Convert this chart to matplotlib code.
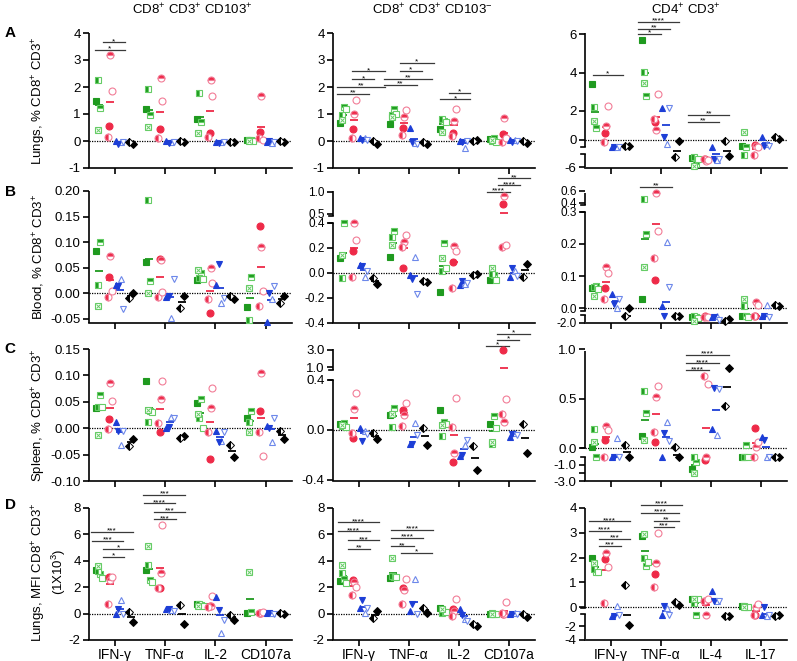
import numpy as np
import matplotlib
matplotlib.use('Agg')
import matplotlib.pyplot as plt

plt.rcParams['font.family'] = ['Liberation Sans', 'DejaVu Sans']
plt.rcParams['mathtext.fontset'] = 'custom'
plt.rcParams['mathtext.rm'] = 'Liberation Sans'
plt.rcParams['mathtext.it'] = 'Liberation Sans:italic'
plt.rcParams['mathtext.bf'] = 'Liberation Sans:bold'

# ---- data (per panel: one list per category, order of symbols fixed per group) ----
# green: [full, top-half, left-half, open, crossed]; red: [full, top, left, open]
# blue: [up full, up open, down full, down open]; black: [full, half]
cats_cd8 = ['IFN-γ', 'TNF-α', 'IL-2', 'CD107a']
cats_cd4 = ['IFN-γ', 'TNF-α', 'IL-4', 'IL-17']

a1_green = [[1.47, 1.22, 2.25, None, 0.39], [1.19, 0.97, 1.91, None, 0.51], [0.81, 0.69, 1.76, None, 0.31], [0.02, 0.03, 0.04, 0.0, 0.0]]
a1_red = [[0.54, 3.18, 0.16, 1.85], [0.44, 2.33, 0.12, 1.47], [0.31, 2.26, 0.16, 1.66], [0.33, 1.66, 0.1, 0.05]]
a1_blue = [[0.0, -0.05, -0.1, -0.05], [0.0, -0.05, -0.08, -0.03], [-0.03, -0.05, -0.08, -0.02], [-0.03, -0.08, 0.0, -0.05]]
a1_black = [[-0.12, -0.03], [-0.02, 0.0], [-0.03, -0.02], [-0.02, 0.0]]
a1_sig = [(0, -0.23, 0.2, 3.66, '*'), (0, -0.4, 0.2, 3.38, '*')]

a2_green = [[0.67, 1.27, 0.95, 1.2, 0.78], [0.63, 1.18, 0.97, 1.0, 0.9], [0.46, 0.75, 0.8, 0.7, 0.35], [0.08, 0.1, 0.0, -0.05, 0.05]]
a2_red = [[0.46, 0.99, 0.11, 1.52], [0.49, 0.9, 0.21, 1.14], [0.28, 0.75, 0.2, 1.2], [0.25, 0.84, -0.02, 0.1]]
a2_blue = [[0.1, 0.12, 0.03, 0.05], [0.48, -0.08, -0.05, -0.1], [0.0, -0.25, -0.02, 0.0], [0.02, 0.05, -0.02, 0.0]]
a2_black = [[-0.12, 0.0], [-0.12, -0.02], [0.05, 0.0], [-0.08, 0.0]]
a2_sig = [(0, -0.13, 0.53, 2.58, '*'), (0, -0.13, 0.31, 2.28, '*'), (0, -0.43, 0.53, 2.0, '**'), (0, -0.43, 0.21, 1.75, '**'),
          (1, -0.18, 0.5, 2.9, '*'), (1, -0.18, 0.27, 2.6, '*'), (1, -0.5, 0.46, 2.31, '**'), (1, -0.5, 0.17, 2.09, '**'),
          (2, -0.2, 0.23, 1.79, '*'), (2, -0.38, 0.23, 1.54, '*')]

a3_green = [[3.4, 0.85, 2.2, None, 1.3], [5.7, 2.75, 4.05, None, 3.43], [-4.6, -5.6, -4.4, -4.8, -5.85], [-0.38, -0.45, -4.1, None, 0.57]]
a3_red = [[0.46, 0.95, -0.15, 2.25], [1.25, 0.68, 1.41, 2.86], [-4.7, -5.0, -4.8, -4.9], [-0.35, -0.4, -4.1, -0.45]]
a3_blue = [[-0.45, -0.5, -0.5, -0.45], [2.12, -0.27, 0.22, 2.12], [-0.45, -4.9, -4.8, -4.7], [0.18, -0.3, -0.4, -0.4]]
a3_black = [[-0.4, -0.4], [-0.07, -4.38], [-4.2, -0.1], [0.05, 0.18]]
a3_sig = [(0, -0.36, 0.25, 3.87, '*'), (1, -0.45, 0.37, 6.65, '****'), (1, -0.45, 0.18, 6.3, '**'), (1, -0.45, 0.0, 6.01, '*'),
          (2, -0.45, 0.37, 1.71, '**'), (2, -0.45, 0.16, 1.25, '**')]

b1_green = [[0.082, 0.1, 0.016, None, -0.025], [0.06, 0.023, 0.182, None, 0.0], [0.026, 0.04, 0.03, 0.028, 0.046], [-0.027, 0.031, -0.053, None, 0.009]]
b1_red = [[0.032, 0.072, -0.007, 0.005], [0.067, 0.065, -0.007, 0.003], [-0.039, 0.049, -0.011, 0.02], [0.132, 0.091, -0.026, 0.005]]
b1_blue = [[0.015, 0.028, 0.013, -0.032], [-0.007, -0.048, -0.005, 0.028], [0.016, -0.02, 0.057, -0.01], [-0.057, -0.012, 0.0, 0.013]]
b1_black = [[0.0, -0.01], [-0.005, -0.03], [-0.012, -0.005], [-0.005, -0.02]]
b1_sig = []

b2_green = [[0.12, 0.4, -0.04, None, 0.147], [0.128, 0.333, 0.288, None, 0.22], [-0.152, 0.24, 0.019, 0.04, 0.12], [-0.053, -0.02, -0.01, -0.053, 0.04]]
b2_red = [[0.173, 0.4, -0.032, 0.26], [0.04, 0.245, 0.208, 0.3], [0.088, 0.219, -0.12, 0.173], [0.715, 0.9, 0.208, 0.221]]
b2_blue = [[0.067, -0.035, 0.059, 0.013], [-0.013, 0.128, -0.045, -0.165], [-0.093, -0.085, -0.061, -0.08], [-0.032, 0.019, 0.04, -0.027]]
b2_black = [[-0.085, -0.04], [-0.072, -0.061], [-0.005, -0.013], [0.075, -0.035]]
b2_sig = [(3, -0.22, 0.43, 1.31, '**'), (3, -0.22, 0.23, 1.15, '****'), (3, -0.43, 0.02, 1.0, '****')]

b3_green = [[0.063, 0.068, 0.065, 0.06, 0.039], [0.029, 0.229, 0.47, None, 0.129], [-0.5, -0.6, -0.3, -0.8, -1.4], [-0.3, -0.3, 0.007, -0.5, 0.029]]
b3_red = [[0.064, 0.129, 0.029, 0.11], [0.087, 0.56, 0.157, 0.239], [-0.3, -0.6, -0.5, -0.4], [-0.2, 0.019, -0.3, 0.009]]
b3_blue = [[0.045, 0.002, 0.014, 0.03], [0.007, 0.207, -0.2, 0.067], [-0.6, -0.3, -0.4, -1.3], [-0.2, 0.012, -0.2, -0.4]]
b3_black = [[0.002, -0.3], [-0.3, -0.3], [-1.0, -1.5], [0.007, 0.01]]
b3_sig = [(1, -0.41, 0.23, 0.67, '**')]

c1_green = [[0.039, 0.063, 0.041, 0.04, -0.013], [0.089, 0.032, 0.011, 0.03, 0.034], [0.047, 0.055, 0.019, 0.0, 0.027], [0.019, 0.033, 0.011, None, -0.007]]
c1_red = [[0.018, 0.085, -0.002, 0.051], [-0.008, 0.056, 0.009, 0.09], [-0.059, 0.038, -0.007, 0.077], [0.032, 0.104, -0.007, -0.053]]
c1_blue = [[0.012, -0.032, -0.005, -0.005], [0.0, 0.022, 0.003, 0.02], [-0.005, -0.024, -0.027, -0.008], [0.004, -0.027, 0.0, 0.02]]
c1_black = [[-0.02, -0.034], [-0.015, -0.019], [-0.054, -0.032], [-0.02, -0.005]]
c1_sig = []

c2_green = [[0.045, 0.058, 0.032, 0.027, 0.04], [0.12, 0.173, 0.027, None, 0.128], [0.16, 0.061, -0.045, 0.05, 0.04], [0.045, 0.112, -0.115, 0.02, -0.093]]
c2_red = [[-0.067, 0.165, -0.021, 0.3], [0.16, 0.12, 0.032, 0.219], [-0.253, -0.181, 0.021, 0.259], [3.0, 0.067, 0.128, 0.248]]
c2_blue = [[0.019, -0.008, -0.085, -0.03], [-0.112, 0.053, -0.112, -0.04], [-0.208, -0.12, -0.2, -0.08], [-0.053, -0.021, -0.03, -0.04]]
c2_black = [[-0.072, -0.027], [-0.12, 0.019], [-0.32, -0.128], [-0.181, 0.048]]
c2_sig = [(3, -0.23, 0.43, 4.92, '*'), (3, -0.23, 0.2, 4.2, '*'), (3, -0.45, 0.0, 3.48, '*')]

c3_green = [[0.017, -0.08, 0.193, None, 0.07], [0.126, 0.359, 0.575, None, 0.086], [-1.48, -0.68, -0.1, None, -2.0], [-0.05, 0.037, -0.08, -0.05, None]]
c3_red = [[0.086, 0.226, -0.05, 0.183], [0.07, 0.515, 0.166, 0.631], [-0.48, -0.08, 0.724, 0.651], [0.203, 0.01, -0.08, 0.07]]
c3_blue = [[-0.05, 0.103, -0.1, -0.05], [-0.05, 0.269, 0.16, 0.076], [0.193, 0.133, 0.608, 0.6], [0.116, -0.08, 0.083, -0.05]]
c3_black = [[-0.05, 0.033], [-0.05, 0.017], [0.814, 0.425], [-0.05, -0.05]]
c3_sig = [(2, -0.5, 0.355, 0.94, '****'), (2, -0.5, 0.16, 0.857, '****'), (2, -0.5, -0.04, 0.784, '****')]

d1_green = [[3.3, 3.0, 3.25, 2.7, 3.6], [3.29, 2.53, 3.67, 2.4, 5.11], [0.7, 0.65, 0.7, 0.55, 0.6], [0.05, 0.1, None, None, 3.16]]
d1_red = [[2.78, 2.58, 0.76, 2.78], [1.97, 3.11, 1.97, 6.71], [0.55, 0.6, 0.5, 1.32], [0.05, 0.08, 0.02, 0.1]]
d1_blue = [[0.0, 1.06, 0.38, 0.0], [0.33, 0.25, 0.38, 0.2], [1.27, -1.47, 0.3, -0.46], [0.05, 0.02, 0.05, 0.0]]
d1_black = [[-0.63, 0.13], [-0.76, 0.63], [-0.46, -0.13], [0.0, 0.05]]
d1_sig = [(0, -0.47, 0.37, 6.2, '***'), (0, -0.45, 0.17, 5.52, '***'), (0, -0.23, 0.37, 4.89, '*'), (0, -0.23, 0.18, 4.3, '*'),
          (1, -0.43, 0.4, 8.99, '***'), (1, -0.42, 0.2, 8.35, '****'), (1, -0.22, 0.4, 7.72, '***'), (1, -0.22, 0.22, 7.14, '***')]

d2_green = [[2.5, 2.6, 3.06, 2.31, 3.68], [2.69, 2.75, 2.86, 2.81, 4.18], [0.45, 0.12, 0.05, 0.1, 0.37], [0.0, 0.0, 0.02, -0.02, 0.0]]
d2_red = [[2.51, 2.4, 1.44, 1.99], [1.94, 1.82, 0.7, 2.61], [0.32, 0.2, -0.17, 1.12], [0.0, 0.0, 0.02, 0.87]]
d2_blue = [[0.45, 0.07, 1.0, 0.45], [0.2, 2.61, 0.7, -0.05], [0.37, -0.42, -0.1, -0.55], [0.0, 0.02, -0.02, 0.0]]
d2_black = [[0.2, -0.37], [0.07, 0.4], [-0.97, -0.8], [-0.25, -0.05]]
d2_sig = [(0, -0.41, 0.4, 6.92, '****'), (0, -0.41, 0.22, 6.22, '****'), (0, -0.21, 0.4, 5.55, '***'), (0, -0.21, 0.22, 4.93, '**'),
          (1, -0.35, 0.49, 6.37, '****'), (1, -0.35, 0.29, 5.75, '****'), (1, -0.35, 0.1, 5.1, '**'), (1, -0.15, 0.47, 4.6, '*')]

d3_green = [[2.0, 1.44, 1.53, 1.44, 1.8], [2.87, 1.67, 1.97, 1.84, 2.96], [0.33, -0.35, 0.16, 0.33, 0.35], [0.07, 0.03, 0.05, 0.0, 0.03]]
d3_red = [[1.93, 2.2, 0.17, 1.64], [1.33, 1.8, 0.83, 3.0], [0.2, -0.4, 0.25, 0.33], [-0.4, 0.03, -0.4, 0.13]]
d3_blue = [[-0.57, 0.07, -0.57, -0.45], [-0.35, -0.03, 0.07, -0.4], [0.67, 0.25, 0.25, 0.24], [-0.4, -0.57, 0.03, -0.4]]
d3_black = [[-1.86, 0.89], [0.11, 0.23], [-0.57, -0.57], [-0.35, -0.57]]
d3_sig = [(0, -0.43, 0.39, 3.47, '****'), (0, -0.43, 0.2, 3.09, '****'), (0, -0.23, 0.39, 2.76, '***'), (0, -0.23, 0.2, 2.47, '***'),
          (1, -0.4, 0.43, 4.13, '****'), (1, -0.4, 0.37, 3.8, '****'), (1, -0.14, 0.37, 3.49, '**'), (1, -0.14, 0.26, 3.23, '***')]

# ---- axis set-up: (data value, pixel row) knots for broken axes, ticks, spine pieces ----
axis_cfg = {
    'a1': dict(knots=[(-1, 168), (4, 33)], ticks=[-1, 0, 1, 2, 3, 4], fmt='{:.0f}', segs=None),
    'a2': dict(knots=[(-1, 168), (4, 33)], ticks=[-1, 0, 1, 2, 3, 4], fmt='{:.0f}', segs=None),
    'a3': dict(knots=[(-6, 167), (-4, 154.3), (-0.5, 147.4), (0, 140), (2, 110.7), (6, 34.3)],
               ticks=[-6, 0, 2, 4, 6], fmt='{:.0f}', segs=[(-6, -4), (-0.5, None)]),
    'b1': dict(knots=[(-0.05, 318.6), (0.2, 191)], ticks=[-0.05, 0, 0.05, 0.1, 0.15, 0.2], fmt='{:.2f}', segs=None),
    'b2': dict(knots=[(-0.4, 323), (0.4, 223), (0.45, 216), (1.0, 192)],
               ticks=[-0.4, -0.2, 0, 0.2, 0.4, 0.5, 1.0], fmt='{:.1f}', segs=[(None, 0.4), (0.45, None)]),
    'b3': dict(knots=[(-2.0, 324), (-0.02, 316), (-0.008, 311.7), (0.3, 210), (0.36, 203.4), (0.6, 189)],
               ticks=[-2.0, 0, 0.1, 0.2, 0.3, 0.4, 0.6], fmt='{:.1f}', segs=[(None, -0.02), (-0.008, 0.3), (0.36, None)]),
    'c1': dict(knots=[(-0.1, 481), (0.15, 349)], ticks=[-0.1, -0.05, 0, 0.05, 0.1, 0.15], fmt='{:.2f}', segs=None),
    'c2': dict(knots=[(-0.4, 480), (0.4, 380), (0.65, 370), (3.0, 350)],
               ticks=[-0.4, 0, 0.4, 1.0, 3.0], fmt='{:.1f}', segs=[(None, 0.4), (0.65, None)]),
    'c3': dict(knots=[(-3, 481), (-0.02, 456.2), (0.0, 448), (1.0, 347)],
               ticks=[-3, -2, -1, 0, 0.5, 1.0], fmt='{:.1f}', segs=[(None, -0.02), (0.0, None)]),
    'd1': dict(knots=[(-2, 640), (8, 508)], ticks=[-2, 0, 2, 4, 6, 8], fmt='{:.0f}', segs=None),
    'd2': dict(knots=[(-2, 640), (8, 508)], ticks=[-2, 0, 2, 4, 6, 8], fmt='{:.0f}', segs=None),
    'd3': dict(knots=[(-4, 641), (-0.3, 615), (-0.05, 609.25), (4, 508)],
               ticks=[-4, -2, 0, 1, 2, 3, 4], fmt='{:.0f}', segs=[(None, -0.3), (-0.05, None)]),
}
hidden_ticklabels = {('c3', -2)}

W, H = 797, 661
col_px = [(89, 292), (333, 535), (585, 787)]
row_px = [(33, 168), (191, 323), (349, 481), (508, 640)]

G_DARK, G_LIGHT = '#1f9a1f', '#66cc66'
R_DARK, R_LIGHT = '#ee2a48', '#f27d97'
B_DARK, B_LIGHT = '#1d3ed6', '#6d88ea'
MS = 5.0


def make_funcs(knots):
    kd = np.array([k[0] for k in knots], float)
    kp = -np.array([k[1] for k in knots], float)
    s0 = (kp[1] - kp[0]) / (kd[1] - kd[0])
    s1 = (kp[-1] - kp[-2]) / (kd[-1] - kd[-2])

    def fwd(y):
        y = np.asarray(y, float)
        out = np.interp(y, kd, kp)
        out = np.where(y < kd[0], kp[0] + (y - kd[0]) * s0, out)
        return np.where(y > kd[-1], kp[-1] + (y - kd[-1]) * s1, out)

    def inv(v):
        v = np.asarray(v, float)
        out = np.interp(v, kp, kd)
        out = np.where(v < kp[0], kd[0] + (v - kp[0]) / s0, out)
        return np.where(v > kp[-1], kd[-1] + (v - kp[-1]) / s1, out)
    return fwd, inv


def pts(ax, x, y, **kw):
    if y is None:
        return
    ax.plot([x], [y], ls='none', clip_on=False, **kw)


def draw_panel(ax, green, red, blue, black, sig):
    for c in range(4):
        g = green[c]
        gx = [-0.37, -0.29, -0.33, -0.25, -0.34]
        pts(ax, c + gx[0], g[0], marker='s', ms=MS, mfc=G_DARK, mec=G_DARK, mew=0.8, zorder=3)
        pts(ax, c + gx[1], g[1], marker='s', ms=MS, fillstyle='top', mfc=G_DARK, mfcalt='white', mec=G_LIGHT, mew=0.8, zorder=3)
        pts(ax, c + gx[2], g[2], marker='s', ms=MS, fillstyle='left', mfc=G_DARK, mfcalt='white', mec=G_LIGHT, mew=0.8, zorder=3)
        pts(ax, c + gx[3], g[3], marker='s', ms=MS, mfc='white', mec=G_LIGHT, mew=0.8, zorder=3)
        pts(ax, c + gx[4], g[4], marker='s', ms=MS, mfc='white', mec=G_LIGHT, mew=0.8, zorder=3)
        pts(ax, c + gx[4], g[4], marker='x', ms=MS * 0.6, mec=G_LIGHT, mew=0.7, zorder=3)

        r = red[c]
        rx = [-0.11, -0.09, -0.14, -0.06]
        pts(ax, c + rx[0], r[0], marker='o', ms=MS, mfc=R_DARK, mec=R_DARK, mew=0.8, zorder=3)
        pts(ax, c + rx[1], r[1], marker='o', ms=MS, fillstyle='top', mfc=R_DARK, mfcalt='white', mec=R_LIGHT, mew=0.8, zorder=3)
        pts(ax, c + rx[2], r[2], marker='o', ms=MS, fillstyle='left', mfc=R_DARK, mfcalt='white', mec=R_LIGHT, mew=0.8, zorder=3)
        pts(ax, c + rx[3], r[3], marker='o', ms=MS, mfc='white', mec=R_LIGHT, mew=0.8, zorder=3)

        b = blue[c]
        bx = [0.02, 0.12, 0.07, 0.17]
        pts(ax, c + bx[0], b[0], marker='^', ms=MS, mfc=B_DARK, mec=B_DARK, mew=0.8, zorder=3)
        pts(ax, c + bx[1], b[1], marker='^', ms=MS, mfc='white', mec=B_LIGHT, mew=0.8, zorder=3)
        pts(ax, c + bx[2], b[2], marker='v', ms=MS, mfc=B_DARK, mec=B_DARK, mew=0.8, zorder=3)
        pts(ax, c + bx[3], b[3], marker='v', ms=MS, mfc='white', mec=B_LIGHT, mew=0.8, zorder=3)

        k = black[c]
        pts(ax, c + 0.37, k[0], marker='D', ms=3.6, mfc='k', mec='k', mew=0.7, zorder=3)
        pts(ax, c + 0.29, k[1], marker='D', ms=3.6, fillstyle='left', mfc='k', mfcalt='white', mec='k', mew=0.7, zorder=3)

        # group means
        for vals, dx, col in [(g, -0.31, G_DARK), (r, -0.10, R_DARK), (b, 0.10, B_DARK), (k, 0.33, 'k')]:
            v = [x for x in vals if x is not None]
            pts(ax, c + dx, np.mean(v), marker='_', ms=6, mew=1.3, color=col, zorder=2)

    for c, x0, x1, y, stars in sig:
        ax.plot([c + x0, c + x1], [y, y], color='#3a3a3a', lw=0.9, clip_on=False)
        ax.annotate(stars, ((2 * c + x0 + x1) / 2, y), xytext=(0, -2), textcoords='offset points',
                    ha='center', va='bottom', fontsize=6, annotation_clip=False)


fig = plt.figure(figsize=(W / 100, H / 100), dpi=100)

panel_data = {
    'a1': (a1_green, a1_red, a1_blue, a1_black, a1_sig),
    'a2': (a2_green, a2_red, a2_blue, a2_black, a2_sig),
    'a3': (a3_green, a3_red, a3_blue, a3_black, a3_sig),
    'b1': (b1_green, b1_red, b1_blue, b1_black, b1_sig),
    'b2': (b2_green, b2_red, b2_blue, b2_black, b2_sig),
    'b3': (b3_green, b3_red, b3_blue, b3_black, b3_sig),
    'c1': (c1_green, c1_red, c1_blue, c1_black, c1_sig),
    'c2': (c2_green, c2_red, c2_blue, c2_black, c2_sig),
    'c3': (c3_green, c3_red, c3_blue, c3_black, c3_sig),
    'd1': (d1_green, d1_red, d1_blue, d1_black, d1_sig),
    'd2': (d2_green, d2_red, d2_blue, d2_black, d2_sig),
    'd3': (d3_green, d3_red, d3_blue, d3_black, d3_sig),
}

for ri, row in enumerate('abcd'):
    top, bot = row_px[ri]
    for ci in range(3):
        name = f'{row}{ci + 1}'
        cfg = axis_cfg[name]
        left, right = col_px[ci]
        ax = fig.add_axes([left / W, 1 - bot / H, (right - left) / W, (bot - top) / H])
        fwd, inv = make_funcs(cfg['knots'])
        ax.set_yscale('function', functions=(fwd, inv))
        y0, y1 = float(inv(-bot)), float(inv(-top))
        ax.set_ylim(y0, y1)
        ax.set_xlim(-0.51, 3.52)

        ax.spines['top'].set_visible(False)
        ax.spines['right'].set_visible(False)
        ax.spines['left'].set_visible(False)
        ax.spines['bottom'].set_linewidth(1.2)
        segs = cfg['segs'] or [(None, None)]
        ytr = ax.get_yaxis_transform()
        for i, (s0, s1) in enumerate(segs):
            s0 = y0 if s0 is None else s0
            s1 = y1 if s1 is None else s1
            ax.plot([0, 0], [s0, s1], color='k', lw=1.2, transform=ytr, clip_on=False, solid_capstyle='butt')
            if len(segs) > 1:
                if i > 0:
                    ax.plot([-0.022, 0], [s0, s0], color='k', lw=1.2, transform=ytr, clip_on=False)
                if i < len(segs) - 1:
                    ax.plot([-0.022, 0], [s1, s1], color='k', lw=1.2, transform=ytr, clip_on=False)

        ticks = cfg['ticks']
        labels = ['' if (name, t) in hidden_ticklabels else cfg['fmt'].format(t) for t in ticks]
        ax.set_yticks(ticks)
        ax.set_yticklabels(labels)
        ax.minorticks_off()
        lsize = 8.5 if name in ('b2', 'b3') else 9.5
        ax.tick_params(axis='y', direction='out', length=4, width=1.2, labelsize=lsize, pad=2)
        ax.set_xticks(range(4))
        if row == 'd':
            ax.set_xticklabels(cats_cd4 if ci == 2 else cats_cd8, fontsize=10)
        else:
            ax.set_xticklabels([])
        ax.tick_params(axis='x', direction='out', length=4, width=1.2, pad=2)

        ax.axhline(0, color='k', ls=(0, (1, 1)), lw=0.9, zorder=1)
        draw_panel(ax, *panel_data[name])

titles = [r'CD8$^{+}$ CD3$^{+}$ CD103$^{+}$', r'CD8$^{+}$ CD3$^{+}$ CD103$^{-}$', r'CD4$^{+}$ CD3$^{+}$']
for x, t in zip([192, 432, 686], titles):
    fig.text(x / W, 1 - 9.5 / H, t, ha='center', va='center', fontsize=9.5)

for lab, y in zip('ABCD', [33, 192, 349, 505]):
    fig.text(10 / W, 1 - y / H, lab, ha='center', va='center', fontsize=11, fontweight='bold')

ylabels = [r'Lungs, % CD8$^{+}$ CD3$^{+}$', r'Blood, % CD8$^{+}$ CD3$^{+}$', r'Spleen, % CD8$^{+}$ CD3$^{+}$']
for lab, (t, b) in zip(ylabels, row_px[:3]):
    fig.text(39 / W, 1 - (t + b) / 2 / H, lab, rotation=90, ha='center', va='center', fontsize=9.5)
fig.text(49 / W, 1 - 572 / H, 'Lungs, MFI CD8$^{+}$ CD3$^{+}$\n(1X10$^{3}$)', rotation=90,
         ha='center', va='center', fontsize=9.5, multialignment='center')

fig.savefig('out.png', dpi=100)
